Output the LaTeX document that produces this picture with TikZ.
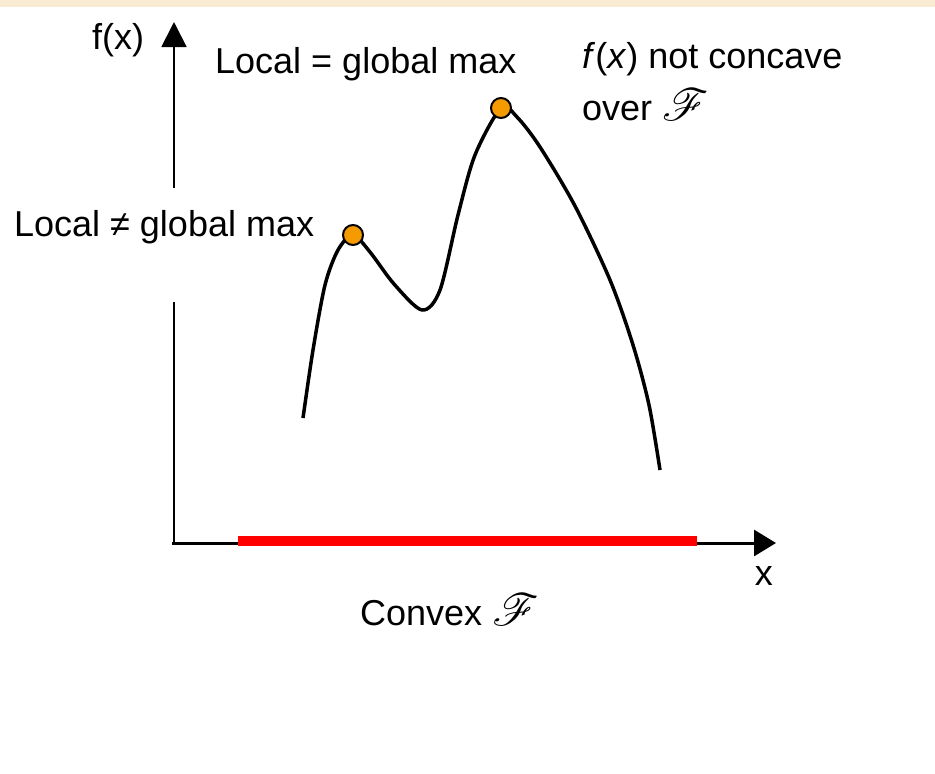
\documentclass[tikz,border=0pt]{standalone}
\usepackage{fontspec}
\setmainfont{Liberation Sans}
\usepackage{mathrsfs}
\DeclareFontFamily{U}{rsfs}{\skewchar\font127 }
\DeclareFontShape{U}{rsfs}{m}{n}{<-> rsfs10}{}
\usepackage{xcolor}
\usetikzlibrary{arrows.meta}
\usetikzlibrary{calc, math}
\definecolor{myorange}{RGB}{245,155,0}
\definecolor{mybeige}{RGB}{250,236,210}
\definecolor{myred}{RGB}{255,0,0}
\newcommand{\feasset}{\scalebox{1.25}{$\mathscr{F}$}}

\begin{document}
\begin{tikzpicture}[x=1pt,y=-1pt,font=\fontsize{36}{43}\selectfont]
\tikzmath{
\xo=174;
\yo=543;
\r=10;
}
\useasboundingbox (0,0) rectangle (935,774);
\fill[mybeige] (0,0) rectangle (935,7);

\coordinate (O) at (\xo,\yo);%coordinates of axes
\coordinate (Ygap1) at (\xo,302);
\coordinate (Ygap2) at (\xo,188);
\coordinate (Ytip) at (\xo,22);
\coordinate (Xtip) at (776,\yo);
\coordinate (Fa) at (238,541);%feasible set
\coordinate (Fb) at (697,541);
\coordinate (Pm1) at (353,235);%maxima
\coordinate (Pm2) at (501,108);

%axes
\draw[line width=1.8pt] (O) -- (Ygap1);
\draw[line width=1.8pt,-{Triangle[length=25pt,width=25pt]}] (Ygap2) -- (Ytip);
\draw[line width=3pt,-{Triangle[length=22pt,width=26pt]}] ($(O)+(-2,0)$) -- (Xtip);
\draw[myred,line width=10pt] (Fa) -- (Fb);

%curve
\draw[line width=3.5pt,line join=round] plot[smooth,tension=0.5] coordinates {
(303,418) (313,350) (325,285) (338,250) (Pm1) (370,252) (394,284) (422,310)
(440,290) (458,215) (475,155) (Pm2) (517,117) (540,147) (575,206)
(610,280) (633,345) (649,405) (660,470)};

%maxima
\filldraw[fill=myorange,draw=black,line width=2pt] (Pm1) circle (\r) (Pm2) circle (\r);

%labels
\node[anchor=base west,inner sep=0pt] (fx) at (92,49) {f(x)};
\node[anchor=base east,inner sep=0pt] (xl) at (773,585) {x};
\node[anchor=base west,inner sep=0pt] (glob) at (215,73) {Local = global max};
\node[anchor=base west,inner sep=0pt] (loc) at (14,236) {Local ≠ global max};
\node[anchor=base west,inner sep=0pt] (nc1) at (582,68) {\textit{f}(\textit{x}) not concave};
\node[anchor=base west,inner sep=0pt] (nc2) at (582,120) {over \feasset};
\node[anchor=base west,inner sep=0pt] (cvx) at (360,625) {Convex \feasset};
\end{tikzpicture}
\end{document}
